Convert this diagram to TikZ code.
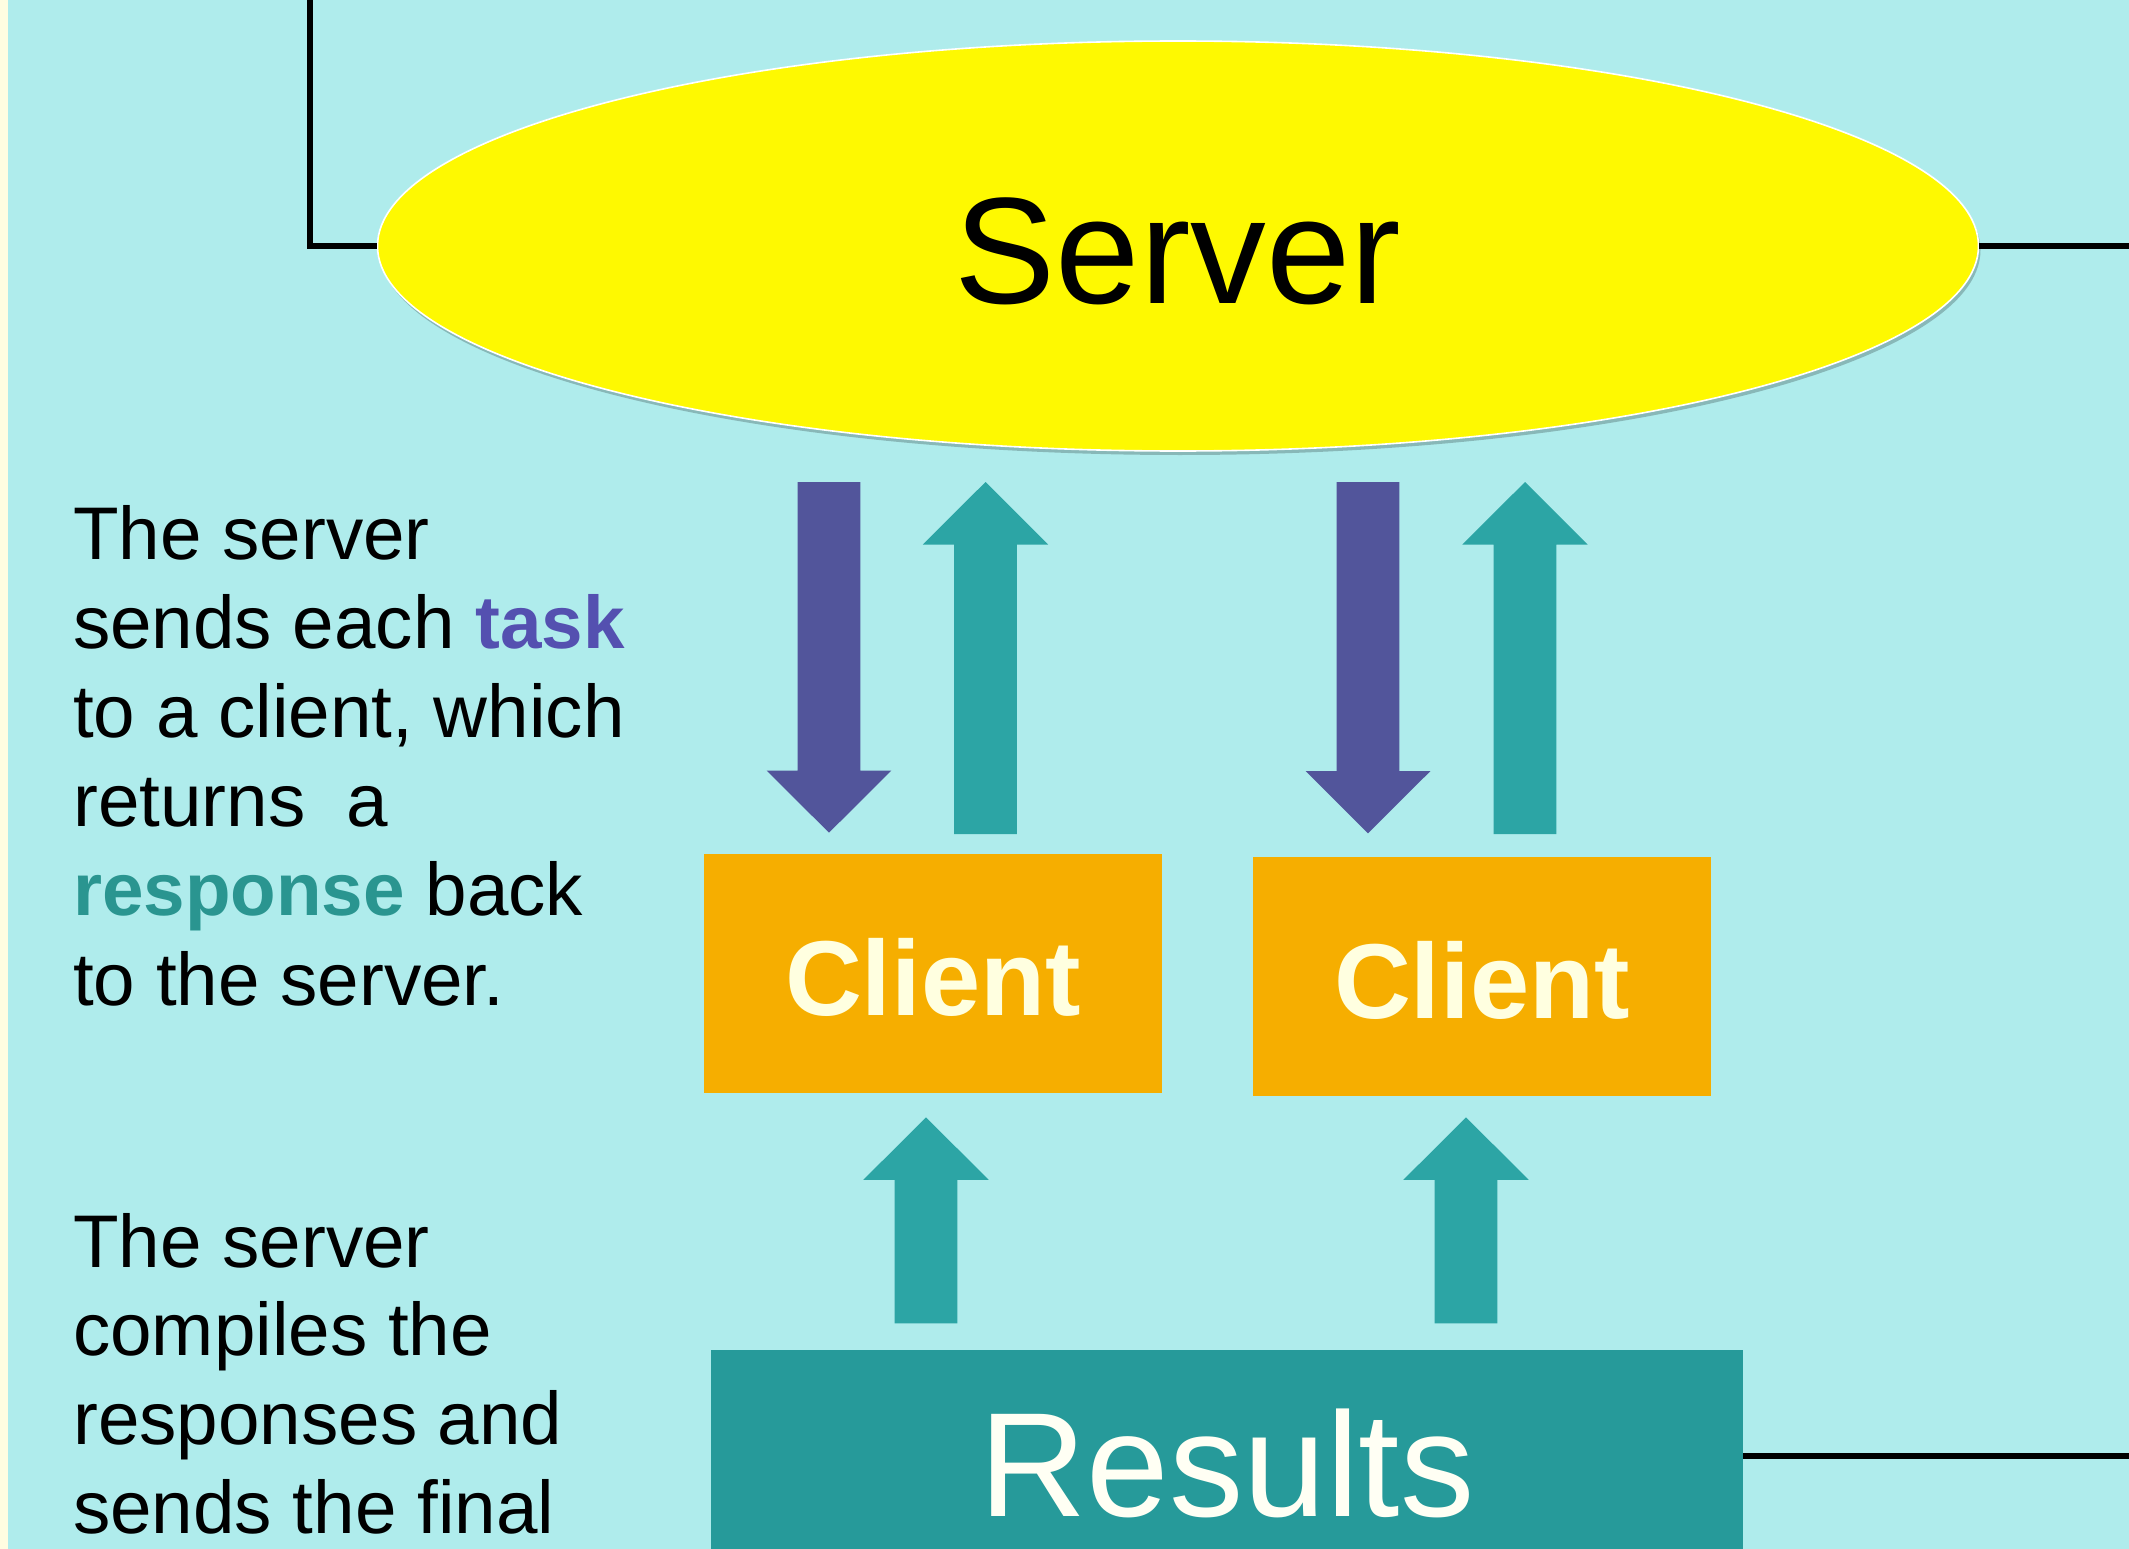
\documentclass[tikz,border=0pt]{standalone}
\usepackage{fontspec}
\setmainfont{Liberation Sans}
\usetikzlibrary{shapes.geometric,shadows}

\definecolor{bgcyan}{HTML}{AFECEC}
\definecolor{edgecream}{HTML}{FFFDE1}
\definecolor{serveryellow}{HTML}{FEF901}
\definecolor{taskpurple}{HTML}{52559B}
\definecolor{tasktext}{HTML}{5450B0}
\definecolor{replyteal}{HTML}{2CA5A5}
\definecolor{replytext}{HTML}{2A9590}
\definecolor{resultsteal}{HTML}{269A9A}
\definecolor{clientorange}{HTML}{F6AE00}
\definecolor{clienttext}{HTML}{FFFFE0}
\definecolor{resultstext}{HTML}{FFFFF4}

% block arrow pointing down: x, top y, tip y, colour
\newcommand{\blockdown}[4]{%
  \fill[#4] ({#1-31.3},#2) -- ({#1+31.3},#2) -- ({#1+31.3},{#3-62.2})
    -- ({#1+62.4},{#3-62.2}) -- (#1,#3) -- ({#1-62.4},{#3-62.2})
    -- ({#1-31.3},{#3-62.2}) -- cycle;}
% block arrow pointing up: x, tip y, bottom y, colour
\newcommand{\blockup}[4]{%
  \fill[#4] ({#1-31.4},#3) -- ({#1+31.4},#3) -- ({#1+31.4},{#2+62.5})
    -- ({#1+62.6},{#2+62.5}) -- (#1,#2) -- ({#1-62.6},{#2+62.5})
    -- ({#1-31.4},{#2+62.5}) -- cycle;}

\newcommand{\taskword}[1]{{\bfseries\color{tasktext}#1}}
\newcommand{\replyword}[1]{{\bfseries\color{replytext}#1}}

\begin{document}
\begin{tikzpicture}[x=1pt,y=-1pt,
  link/.style={line width=5.3pt, black},
  linkshadow/.style={line width=6pt, black, opacity=0.28},
  serverstyle/.style={ellipse, fill=serveryellow, draw=white, line width=1.6pt,
    minimum width=1601pt, minimum height=410pt, inner sep=0pt,
    drop shadow={shadow xshift=2pt, shadow yshift=-4pt, opacity=0.22, fill=black},
    font=\fontsize{151.5}{180}\selectfont},
  clientbox/.style={rectangle, fill=clientorange, minimum width=458pt,
    minimum height=239pt, inner sep=0pt, text=clienttext,
    font=\fontsize{106.5}{126}\selectfont\bfseries},
  resultsbox/.style={rectangle, fill=resultsteal, minimum width=1032pt,
    minimum height=226pt, inner sep=0pt, text=resultstext,
    font=\fontsize{148.5}{176}\selectfont},
  notetext/.style={anchor=base west, inner sep=0pt, text=black}]

\useasboundingbox (0,0) rectangle (2129,1549);
\clip (0,0) rectangle (2129,1549);

% page background
\fill[bgcyan] (0,0) rectangle (2129,1549);
\fill[edgecream] (0,0) rectangle (8,1549);

% nodes
\node[serverstyle] (server) at (1178,246)
  {\raisebox{-5pt}[\height][\depth]{Server}};
\node[clientbox] (clientA) at (933,973.5)
  {\raisebox{-3.5pt}[\height][\depth]{Client}};
\node[clientbox] (clientB) at (1482,976.5)
  {\raisebox{-3.5pt}[\height][\depth]{Client}};
\node[resultsbox] (results) at (1227,1463) {Results};

% outgoing lines
\coordinate (ltop) at (310,-10);
\coordinate (rtop) at (2140,246);
\coordinate (rbot) at (2140,1456);
\begin{scope}[shift={(2.5,3)}]
  \draw[linkshadow] (ltop) |- (server.west);
  \draw[linkshadow] (server.east) -- (rtop);
  \draw[linkshadow] (results.east |- rbot) -- (rbot);
\end{scope}
\draw[link] (ltop) |- (server.west);
\draw[link] (server.east) -- (rtop);
\draw[link] (results.east |- rbot) -- (rbot);

% task and response arrows between server and clients
\blockdown{829}{482}{832.7}{taskpurple}
\blockup{985.5}{482}{834}{replyteal}
\blockdown{1368}{482}{833.3}{taskpurple}
\blockup{1525}{482}{834}{replyteal}

% arrows from results up to the clients
\blockup{926}{1117.3}{1323.3}{replyteal}
\blockup{1466}{1117.3}{1323.3}{replyteal}

% explanatory text
\node[notetext] (noteA) at (73,559)
  {\parbox[t]{620pt}{\fontsize{74.6}{89.2}\selectfont\raggedright
   The server\\
   sends each \taskword{task}\\
   to a client, which\\
   returns\ \ a\\
   \replyword{response} back\\
   to the server.}};
\node[notetext] (noteB) at (73,1267)
  {\parbox[t]{620pt}{\fontsize{74.6}{88.7}\selectfont\raggedright
   The server\\
   compiles the\\
   responses and\\
   sends the final}};
\end{tikzpicture}
\end{document}
